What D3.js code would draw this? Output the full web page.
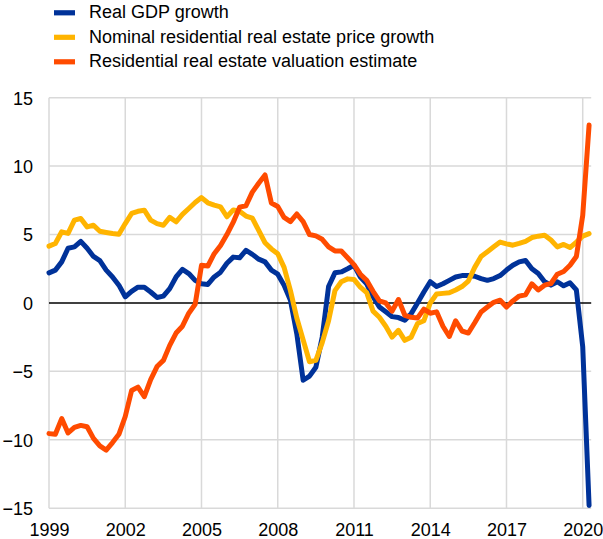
<!DOCTYPE html>
<html>
<head>
<meta charset="utf-8">
<script src="https://cdn.jsdelivr.net/npm/d3@7"></script>
<style>
  html, body { margin: 0; padding: 0; background: #fff; }
  svg { display: block; font-family: "Liberation Sans", Arial, sans-serif; }
</style>
</head>
<body>
<svg id="chart" width="603" height="539"></svg>
<script>
// Quarterly data, 1999Q1 - 2020Q2 (annual % changes / percent)
const startYear = 1999;
const gdpGrowth = [
  2.2, 2.4, 3.0, 4.0,
  4.1, 4.5, 4.0, 3.4,
  3.1, 2.4, 1.9, 1.3,
  0.45, 0.85, 1.15, 1.15,
  0.8, 0.4, 0.5, 1.05,
  1.9, 2.45, 2.15, 1.65,
  1.4, 1.35, 1.9, 2.25,
  2.9, 3.35, 3.3, 3.85,
  3.55, 3.2, 3.0, 2.4,
  2.1, 1.3, 0.2, -2.25,
  -5.65, -5.35, -4.7, -2.5,
  1.2, 2.2, 2.27, 2.5,
  2.75, 1.9, 1.4, 0.45,
  -0.3, -0.65, -1.0, -1.07,
  -1.27, -0.78, 0.0, 0.8,
  1.55, 1.2, 1.4, 1.65,
  1.9, 2.0, 2.0, 1.95,
  1.78, 1.65, 1.78, 2.0,
  2.4, 2.75, 3.0, 3.1,
  2.5, 2.15, 1.55, 1.3,
  1.55, 1.25, 1.47, 0.95,
  -3.2, -14.8
];
const priceGrowth = [
  4.15, 4.35, 5.2, 5.08,
  6.05, 6.17, 5.56, 5.68,
  5.24, 5.15, 5.07, 5.02,
  5.8, 6.54, 6.7, 6.78,
  6.05, 5.8, 5.68, 6.25,
  5.93, 6.47, 6.9, 7.34,
  7.7, 7.32, 7.15, 7.02,
  6.3, 6.8, 6.7, 6.35,
  6.2, 5.3, 4.4, 3.95,
  3.6, 2.6, 0.9, -1.1,
  -2.7, -4.3, -4.2, -2.9,
  -1.3, 0.9, 1.55, 1.76,
  1.72, 1.15, 0.75, -0.6,
  -1.05, -1.7, -2.5, -2.0,
  -2.73, -2.5, -1.5, -1.3,
  0.0, 0.65, 0.7, 0.75,
  0.95, 1.2, 1.6, 2.6,
  3.4, 3.75, 4.1, 4.45,
  4.32, 4.22, 4.35, 4.5,
  4.78, 4.88, 4.95, 4.6,
  4.1, 4.28, 4.05, 4.45,
  4.88, 5.07
];
const valuation = [
  -9.55, -9.6, -8.45, -9.5,
  -9.1, -8.95, -9.05, -9.9,
  -10.45, -10.75, -10.2, -9.6,
  -8.3, -6.4, -6.15, -6.85,
  -5.6, -4.65, -4.2, -3.1,
  -2.2, -1.7, -0.75, -0.1,
  2.75, 2.7, 3.6, 4.2,
  5.0, 5.9, 7.0, 7.1,
  8.1, 8.75, 9.35, 7.3,
  7.05, 6.25, 5.95, 6.5,
  5.95, 5.0, 4.9, 4.65,
  4.1, 3.8, 3.8, 3.3,
  2.8, 2.1, 1.65, 0.85,
  0.15, 0.0, -0.6, 0.25,
  -0.9, -1.05, -1.1, -0.45,
  -0.75, -0.65, -1.7, -2.45,
  -1.3, -2.05, -2.2, -1.45,
  -0.66, -0.3, 0.05, 0.2,
  -0.3, 0.15, 0.5, 0.6,
  1.4, 0.95, 1.3, 1.42,
  2.1, 2.3, 2.75, 3.4,
  6.4, 13.0
];
const seriesNames = [
  "Real GDP growth",
  "Nominal residential real estate price growth",
  "Residential real estate valuation estimate"
];
const seriesColors = ["#003299", "#ffb400", "#ff4b00"];
const xTicks = [1999, 2002, 2005, 2008, 2011, 2014, 2017, 2020];
const yTicks = [-15, -10, -5, 0, 5, 10, 15];

const svg = d3.select("#chart");
const x = d3.scaleLinear().domain([1999, 2020 + 1/3]).range([49, 591.2]);
const y = d3.scaleLinear().domain([-15, 15]).range([508.2, 97.7]);

const grid = svg.append("g");
grid.selectAll("line.h").data(yTicks.filter(d => d !== 0)).join("line")
  .attr("x1", x.range()[0]).attr("x2", x.range()[1])
  .attr("y1", d => y(d)).attr("y2", d => y(d))
  .attr("stroke", "#d9d9d9").attr("stroke-width", 1.5);
grid.selectAll("line.v").data(xTicks).join("line")
  .attr("x1", d => x(d)).attr("x2", d => x(d))
  .attr("y1", y(15)).attr("y2", y(-15))
  .attr("stroke", "#d9d9d9").attr("stroke-width", 1.5);

const yAxis = d3.axisLeft(y).tickValues(yTicks).tickSize(0).tickPadding(0);
const yg = svg.append("g").attr("transform", "translate(33,0)").call(yAxis);
yg.select(".domain").remove();
yg.selectAll("text").attr("font-size", 18).attr("fill", "#000")
  .attr("font-family", "Liberation Sans, Arial, sans-serif").attr("dy", "0.35em");

const xAxis = d3.axisBottom(x).tickValues(xTicks).tickFormat(d3.format("d")).tickSize(0).tickPadding(0);
const xg = svg.append("g").attr("transform", "translate(0,523.5)").call(xAxis);
xg.select(".domain").remove();
xg.selectAll("text").attr("font-size", 18).attr("fill", "#000")
  .attr("font-family", "Liberation Sans, Arial, sans-serif").attr("dy", "0.71em");

svg.append("line")
  .attr("x1", x.range()[0]).attr("x2", x.range()[1])
  .attr("y1", y(0)).attr("y2", y(0))
  .attr("stroke", "#000").attr("stroke-width", 1.5);

const allSeries = [gdpGrowth, priceGrowth, valuation];
const line = d3.line()
  .x((d, i) => x(startYear + i / 4))
  .y(d => y(d));

svg.append("g").selectAll("path").data(allSeries).join("path")
  .attr("d", d => line(d))
  .attr("fill", "none")
  .attr("stroke", (d, i) => seriesColors[i])
  .attr("stroke-width", 5)
  .attr("stroke-linejoin", "round")
  .attr("stroke-linecap", "round");

const legend = svg.append("g");
const rows = legend.selectAll("g").data(seriesNames).join("g")
  .attr("transform", (d, i) => `translate(0,${12.8 + i * 24.5})`);
rows.append("rect")
  .attr("x", 54).attr("y", -2.6).attr("width", 21).attr("height", 5.2)
  .attr("fill", (d, i) => seriesColors[i]);
rows.append("text")
  .attr("x", 89).attr("y", 5.5)
  .attr("font-size", 18).attr("fill", "#000")
  .text(d => d);
</script>
</body>
</html>
